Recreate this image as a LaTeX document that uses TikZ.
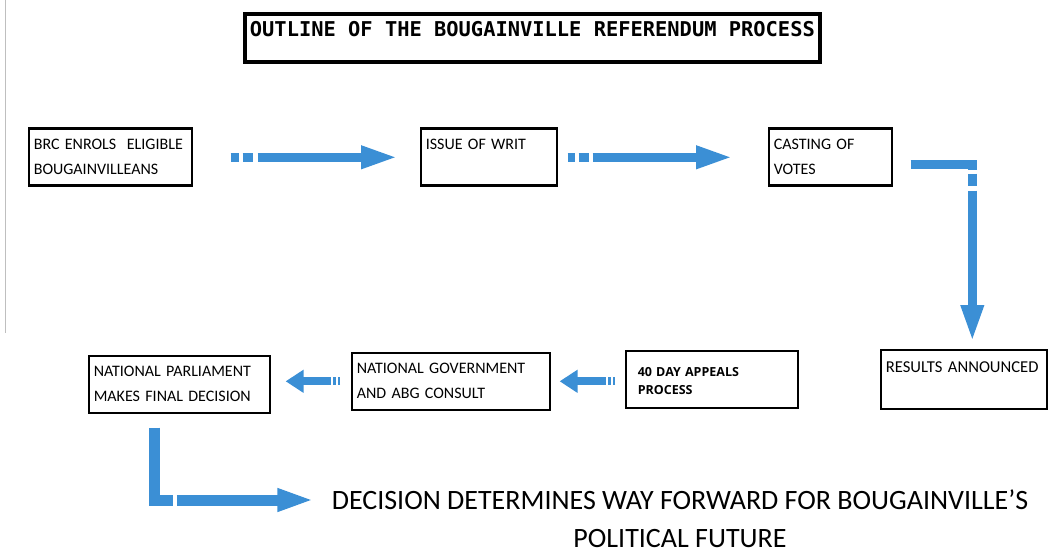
\documentclass[tikz,border=0pt]{standalone}
\usepackage{fontspec}
\setmainfont{Carlito}
\newfontfamily\titlemono{DejaVu Sans Mono}
\newfontfamily\appealfont{Open Sans}
\usetikzlibrary{arrows.meta}
\definecolor{flowblue}{RGB}{59,143,213}

\begin{document}
\begin{tikzpicture}[x=1pt,y=-1pt,
  box/.style={draw,line width=2.6pt,anchor=north west,align=left,inner xsep=5pt,inner ysep=0pt,
    minimum height=57pt,font=\fontsize{16}{25}\selectfont},
  flow/.style={draw=flowblue,line width=9pt,-{Triangle[width=21pt,length=37pt]}},
  backflow/.style={draw=flowblue,line width=8pt,-{Triangle[width=22pt,length=18pt]},
    dash pattern=on 2.5pt off 2pt on 3pt off 2pt on 600pt}]
\useasboundingbox (0,0) rectangle (1049,556);
\draw[black!25] (5,0) -- (5,333);

% title
\node[box,line width=3.8pt,font={\fontsize{20.4}{24}\titlemono\bfseries},minimum width=575pt,
  inner ysep=3pt,text height=20pt,text depth=22pt,minimum height=0pt] (title) at (243,12)
  {OUTLINE OF THE BOUGAINVILLE REFERENDUM PROCESS};

% top row
\node[box,minimum width=163pt,text width=153pt] (brc) at (27.5,127.5) {BRC~ENROLS~~ELIGIBLE\\BOUGAINVILLEANS};
\node[box,minimum width=136pt,text width=126pt] (writ) at (419.5,127.5) {ISSUE~OF~WRIT\\~};
\node[box,minimum width=123pt,text width=113pt] (cast) at (767.5,127.5) {CASTING OF\\VOTES};

% bottom row
\node[box,minimum width=166pt,minimum height=59pt,text width=156pt,
  font=\fontsize{16.6}{25}\selectfont] (res) at (879.5,348.5) {RESULTS~ANNOUNCED\\~};
\node[box,minimum width=172pt,text width=148pt,inner xsep=12pt,text depth=14pt,
  font={\fontsize{12.5}{17.5}\appealfont\bfseries}] (appeal) at (624.5,349.5) {40 DAY APPEALS\\PROCESS};
\node[box,minimum width=198pt,text width=188pt] (gov) at (350.5,351.5) {NATIONAL~GOVERNMENT\\AND ABG CONSULT};
\node[box,minimum width=181pt,text width=171pt] (parl) at (87.5,354.5) {NATIONAL~PARLIAMENT\\MAKES~FINAL~DECISION};

\node[align=center,font=\fontsize{28}{38}\selectfont] (decision) at (680,519)
  {DECISION DETERMINES WAY FORWARD FOR BOUGAINVILLE’S\\POLITICAL FUTURE};

% arrows
\draw[flow,dash pattern=on 8pt off 4pt on 10pt off 5pt on 600pt,shorten <=37.5pt,shorten >=21.5pt]
  (brc.east) -- (writ.west);
\draw[flow,dash pattern=on 7pt off 4pt on 10pt off 4pt on 600pt,shorten <=9.5pt,shorten >=34.5pt]
  (writ.east) -- (cast.west);
\draw[flow,line width=9pt,dash pattern=on 67pt off 4pt on 12pt off 5pt on 600pt,shorten >=6.5pt]
  ([shift={(17.5pt,-7pt)}]cast.east) -| ([xshift=8.5pt]res.north);
\draw[backflow,shorten <=9.5pt,shorten >=8.5pt] (appeal.west |- gov.east) -- (gov.east);
\draw[backflow,shorten <=10.5pt,shorten >=14.5pt] (gov.west) -- (parl.east |- gov.west);
\draw[flow,line width=11pt,dash pattern=on 91pt off 4pt on 600pt,shorten <=13.5pt,shorten >=14pt]
  ([xshift=-25pt]parl.south) |- ([yshift=19pt]decision.west);
\end{tikzpicture}
\end{document}
